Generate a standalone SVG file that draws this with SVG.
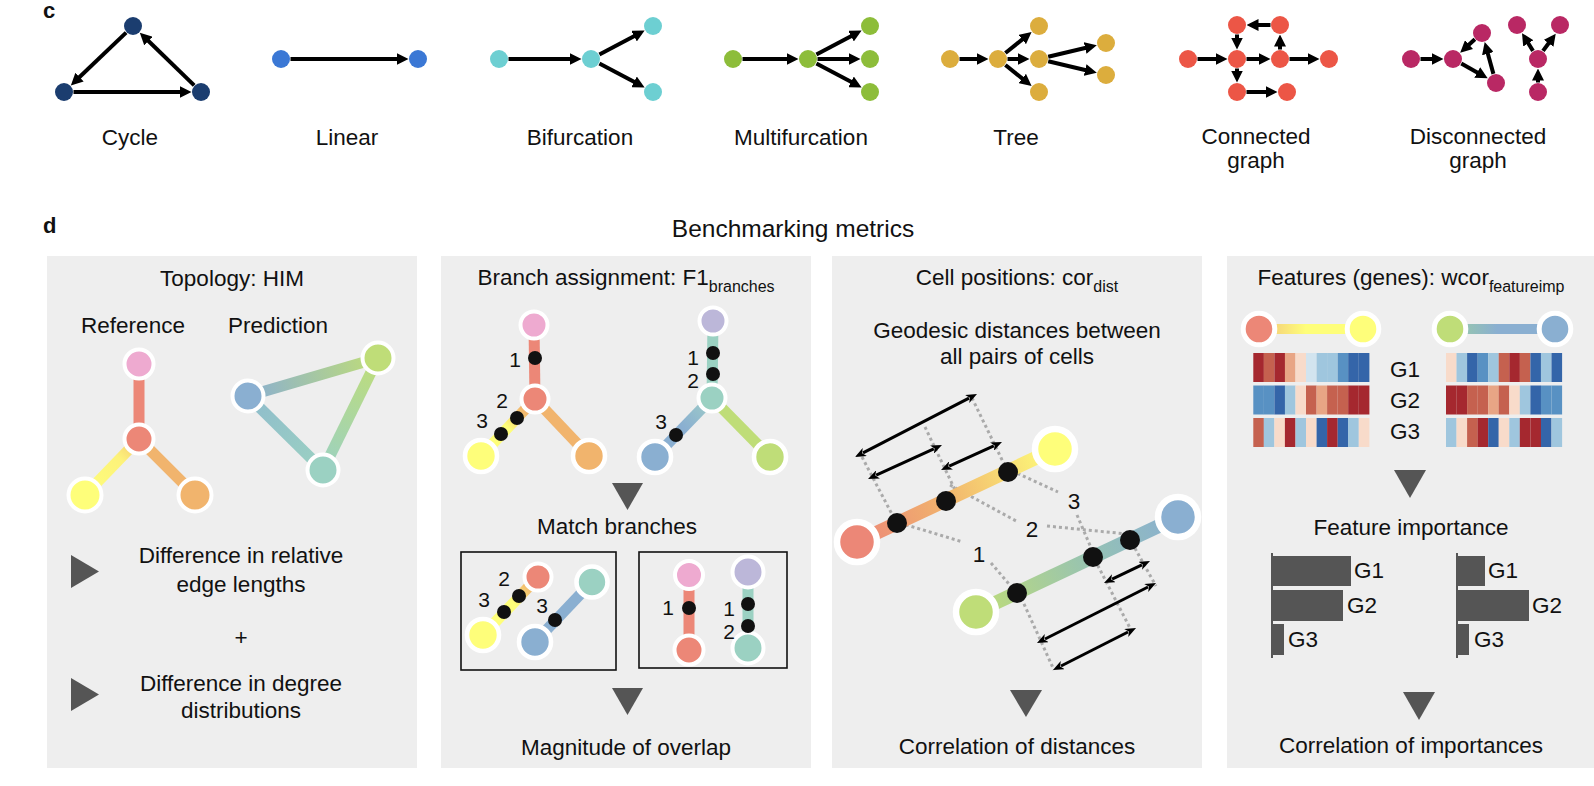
<svg xmlns="http://www.w3.org/2000/svg" width="1594" height="786" viewBox="0 0 1594 786">
<defs>
<style>
text{font-family:"Liberation Sans",Arial,sans-serif;fill:#111;font-size:22.5px}
.m{text-anchor:middle}
.b{font-weight:bold;font-size:22px}
.sub{font-size:16px}
.dg{font-size:21px}
.e{stroke:#000;stroke-width:4;fill:none;marker-end:url(#ah)}
.panel{fill:#eeeeee}
.w{stroke:#fff;stroke-width:4}
.w5{stroke:#fff;stroke-width:4.6}
.w3{stroke:#fff;stroke-width:6.5}
.ed{fill:none;stroke-width:11}
.dot{fill:#111}
.tri{fill:#555}
.dash{stroke:#aaa;stroke-width:3;stroke-dasharray:3 3;fill:none}
.da{stroke:#000;stroke-width:3;fill:none;marker-start:url(#dh);marker-end:url(#dh)}
.box{fill:none;stroke:#111;stroke-width:1.6}
.cyc{fill:#1b3d6f}.lin{fill:#3b78d5}.bif{fill:#6dcfd2}.mul{fill:#8dbd3a}.tre{fill:#dcad3d}.con{fill:#ec5646}.dis{fill:#b92864}
.pk{fill:#eeaad0}.rd{fill:#ec8777}.ye{fill:#fefe7a}.or{fill:#f1b46d}.bl{fill:#8aafd1}.gr{fill:#bfdd78}.te{fill:#9bd1c2}.lv{fill:#bcb7d9}
.bar{fill:#555}
.ax{stroke:#555;stroke-width:2}
</style>
<marker id="ah" viewBox="0 0 12 12" refX="1" refY="6" markerWidth="12" markerHeight="12" markerUnits="userSpaceOnUse" orient="auto"><path d="M0,0 L12,6 L0,12 z" fill="#000"/></marker>
<marker id="dh" viewBox="0 0 11 9" refX="2" refY="4.5" markerWidth="11" markerHeight="9" markerUnits="userSpaceOnUse" orient="auto-start-reverse"><path d="M0,0 L11,4.5 L0,9 L3,4.5 z" fill="#000"/></marker>
<linearGradient id="g1ry" gradientUnits="userSpaceOnUse" x1="139" y1="439" x2="85" y2="495"><stop offset="0" stop-color="#f2c272"/><stop offset="0.35" stop-color="#fdf27a"/><stop offset="1" stop-color="#fefe7a"/></linearGradient>
<linearGradient id="g1bg" gradientUnits="userSpaceOnUse" x1="248" y1="396" x2="378" y2="358"><stop offset="0" stop-color="#8aafd1"/><stop offset="1" stop-color="#bfdd78"/></linearGradient>
<linearGradient id="g1gt" gradientUnits="userSpaceOnUse" x1="378" y1="358" x2="323" y2="470"><stop offset="0" stop-color="#bfdd78"/><stop offset="1" stop-color="#9bd1c2"/></linearGradient>
<linearGradient id="g1bt" gradientUnits="userSpaceOnUse" x1="248" y1="396" x2="323" y2="470"><stop offset="0" stop-color="#8fbccc"/><stop offset="1" stop-color="#9bd1c2"/></linearGradient>
<linearGradient id="g2ry" gradientUnits="userSpaceOnUse" x1="535" y1="399" x2="481" y2="456"><stop offset="0.2" stop-color="#f1b46d"/><stop offset="0.5" stop-color="#fefe7a"/></linearGradient>
<linearGradient id="g2tb" gradientUnits="userSpaceOnUse" x1="712" y1="398" x2="655" y2="457"><stop offset="0.1" stop-color="#9bc8c8"/><stop offset="0.5" stop-color="#8aafd1"/></linearGradient>
<linearGradient id="g2bx" gradientUnits="userSpaceOnUse" x1="538" y1="577" x2="483" y2="635"><stop offset="0.15" stop-color="#f1b46d"/><stop offset="0.45" stop-color="#fefe7a"/></linearGradient>
<linearGradient id="g3a" gradientUnits="userSpaceOnUse" x1="857" y1="542" x2="1055" y2="449"><stop offset="0" stop-color="#ec8777"/><stop offset="0.45" stop-color="#f1b46d"/><stop offset="1" stop-color="#fefe7a"/></linearGradient>
<linearGradient id="g3b" gradientUnits="userSpaceOnUse" x1="976" y1="612" x2="1178" y2="517"><stop offset="0" stop-color="#bfdd78"/><stop offset="0.6" stop-color="#94c1b6"/><stop offset="1" stop-color="#8aafd1"/></linearGradient>
<linearGradient id="g4a" gradientUnits="userSpaceOnUse" x1="1259" y1="329" x2="1363" y2="329"><stop offset="0.12" stop-color="#f5d27a"/><stop offset="0.45" stop-color="#fefe7a"/></linearGradient>
<linearGradient id="g4b" gradientUnits="userSpaceOnUse" x1="1450" y1="329" x2="1555" y2="329"><stop offset="0.15" stop-color="#95c3b3"/><stop offset="0.45" stop-color="#8aafd1"/></linearGradient>
</defs>
<rect width="1594" height="786" fill="#fff"/>

<!-- ===== c: topologies ===== -->
<text class="b" x="43" y="18">c</text>
<g id="connectors">
  <line class="e" x1="126.1" y1="32.6" x2="78.8" y2="77.8"/>
  <line class="e" x1="73.5" y1="92" x2="180.5" y2="92"/>
  <line class="e" x1="194.2" y1="85.4" x2="147.7" y2="40.3"/>
  <line class="e" x1="290.5" y1="59" x2="397.5" y2="59"/>
  <line class="e" x1="508.5" y1="59" x2="570.5" y2="59"/>
  <line class="e" x1="599.4" y1="54.5" x2="634.9" y2="35.7"/>
  <line class="e" x1="599.4" y1="63.5" x2="634.9" y2="82.3"/>
  <line class="e" x1="742.5" y1="59" x2="787.5" y2="59"/>
  <line class="e" x1="816.4" y1="54.5" x2="851.9" y2="35.7"/>
  <line class="e" x1="817.5" y1="59" x2="849.5" y2="59"/>
  <line class="e" x1="816.4" y1="63.5" x2="851.9" y2="82.3"/>
  <line class="e" x1="959.5" y1="59" x2="977.5" y2="59"/>
  <line class="e" x1="1005.4" y1="53" x2="1023" y2="38.9"/>
  <line class="e" x1="1007.5" y1="59" x2="1018.5" y2="59"/>
  <line class="e" x1="1005.4" y1="65" x2="1023" y2="79.1"/>
  <line class="e" x1="1048.2" y1="56.8" x2="1086.1" y2="47.8"/>
  <line class="e" x1="1048.2" y1="61.2" x2="1086.1" y2="70.2"/>
  <line class="e" x1="1197.5" y1="59" x2="1216.5" y2="59"/>
  <line class="e" x1="1270.5" y1="25" x2="1257.5" y2="25"/>
  <line class="e" x1="1237" y1="34.5" x2="1237" y2="38.5"/>
  <line class="e" x1="1246.5" y1="59" x2="1259.5" y2="59"/>
  <line class="e" x1="1280" y1="49.5" x2="1280" y2="45.5"/>
  <line class="e" x1="1289.5" y1="59" x2="1308.5" y2="59"/>
  <line class="e" x1="1237" y1="68.5" x2="1237" y2="71.5"/>
  <line class="e" x1="1246.5" y1="92" x2="1266.5" y2="92"/>
  <line class="e" x1="1420.5" y1="59" x2="1432.5" y2="59"/>
  <line class="e" x1="1474.9" y1="39.3" x2="1468.3" y2="45.3"/>
  <line class="e" x1="1461.3" y1="63.6" x2="1478.1" y2="73"/>
  <line class="e" x1="1493.4" y1="73.9" x2="1487.6" y2="52.7"/>
  <line class="e" x1="1538" y1="82.5" x2="1538" y2="79.5"/>
  <line class="e" x1="1533" y1="50.9" x2="1527.8" y2="42.5"/>
  <line class="e" x1="1543" y1="50.9" x2="1549.2" y2="42.5"/>
</g>
<g id="cycle">
  <circle class="cyc" cx="133" cy="26" r="9"/><circle class="cyc" cx="64" cy="92" r="9"/><circle class="cyc" cx="201" cy="92" r="9"/>
  <text class="m" x="130" y="145">Cycle</text>
</g>
<g id="linear">
  <circle class="lin" cx="281" cy="59" r="9"/><circle class="lin" cx="418" cy="59" r="9"/>
  <text class="m" x="347" y="145">Linear</text>
</g>
<g id="bifurcation">
  <circle class="bif" cx="499" cy="59" r="9"/><circle class="bif" cx="591" cy="59" r="9"/><circle class="bif" cx="653" cy="26" r="9"/><circle class="bif" cx="653" cy="92" r="9"/>
  <text class="m" x="580" y="145">Bifurcation</text>
</g>
<g id="multifurcation">
  <circle class="mul" cx="733" cy="59" r="9"/><circle class="mul" cx="808" cy="59" r="9"/><circle class="mul" cx="870" cy="26" r="9"/><circle class="mul" cx="870" cy="59" r="9"/><circle class="mul" cx="870" cy="92" r="9"/>
  <text class="m" x="801" y="145">Multifurcation</text>
</g>
<g id="tree">
  <circle class="tre" cx="950" cy="59" r="9"/><circle class="tre" cx="998" cy="59" r="9"/><circle class="tre" cx="1039" cy="26" r="9"/><circle class="tre" cx="1039" cy="59" r="9"/><circle class="tre" cx="1039" cy="92" r="9"/><circle class="tre" cx="1106" cy="43" r="9"/><circle class="tre" cx="1106" cy="75" r="9"/>
  <text class="m" x="1016" y="145">Tree</text>
</g>
<g id="connected-graph">
  <circle class="con" cx="1188" cy="59" r="9"/><circle class="con" cx="1237" cy="59" r="9"/><circle class="con" cx="1237" cy="25" r="9"/><circle class="con" cx="1280" cy="25" r="9"/><circle class="con" cx="1280" cy="59" r="9"/><circle class="con" cx="1329" cy="59" r="9"/><circle class="con" cx="1237" cy="92" r="9"/><circle class="con" cx="1287" cy="92" r="9"/>
  <text class="m" x="1256" y="144">Connected</text>
  <text class="m" x="1256" y="168">graph</text>
</g>
<g id="disconnected-graph">
  <circle class="dis" cx="1411" cy="59" r="9"/><circle class="dis" cx="1453" cy="59" r="9"/><circle class="dis" cx="1482" cy="33" r="9"/><circle class="dis" cx="1496" cy="83" r="9"/><circle class="dis" cx="1517" cy="25" r="9"/><circle class="dis" cx="1560" cy="25" r="9"/><circle class="dis" cx="1538" cy="59" r="9"/><circle class="dis" cx="1538" cy="92" r="9"/>
  <text class="m" x="1478" y="144">Disconnected</text>
  <text class="m" x="1478" y="168">graph</text>
</g>

<!-- ===== d: benchmarking metrics ===== -->
<text class="b" x="43" y="233">d</text>
<text class="m" x="793" y="237" style="font-size:24.5px">Benchmarking metrics</text>

<g id="panel-topology">
  <rect class="panel" x="47" y="256" width="370" height="512"/>
  <text class="m" x="232" y="286">Topology: HIM</text>
  <text class="m" x="133" y="333">Reference</text>
  <text class="m" x="278" y="333">Prediction</text>
  <line class="ed" x1="139" y1="364" x2="139" y2="439" stroke="#ec8777"/>
  <line class="ed" x1="139" y1="439" x2="85" y2="495" stroke="url(#g1ry)"/>
  <line class="ed" x1="139" y1="439" x2="195" y2="495" stroke="#f1b46d"/>
  <line class="ed" x1="248" y1="396" x2="378" y2="358" stroke="url(#g1bg)"/>
  <line class="ed" x1="378" y1="358" x2="323" y2="470" stroke="url(#g1gt)"/>
  <line class="ed" x1="248" y1="396" x2="323" y2="470" stroke="url(#g1bt)"/>
  <circle class="pk w" cx="139" cy="364" r="14.5"/>
  <circle class="rd w" cx="139" cy="439" r="14.5"/>
  <circle class="ye w" cx="85" cy="495" r="16.5"/>
  <circle class="or w" cx="195" cy="495" r="16.5"/>
  <circle class="bl w" cx="248" cy="396" r="15.5"/>
  <circle class="gr w" cx="378" cy="358" r="15.5"/>
  <circle class="te w" cx="323" cy="470" r="15.5"/>
  <polygon class="tri" points="71,555 71,588 99,571.5"/>
  <text class="m" x="241" y="563">Difference in relative</text>
  <text class="m" x="241" y="592">edge lengths</text>
  <text class="m" x="241" y="645">+</text>
  <polygon class="tri" points="71,678 71,711 99,694.5"/>
  <text class="m" x="241" y="691">Difference in degree</text>
  <text class="m" x="241" y="718">distributions</text>
</g>

<g id="panel-branch">
  <rect class="panel" x="441" y="256" width="370" height="512"/>
  <text class="m" x="626" y="285">Branch assignment: F1<tspan class="sub" dy="7">branches</tspan></text>
  <line class="ed" x1="534" y1="325" x2="535" y2="399" stroke="#ec8777"/>
  <line class="ed" x1="535" y1="399" x2="481" y2="456" stroke="url(#g2ry)"/>
  <line class="ed" x1="535" y1="399" x2="589" y2="456" stroke="#f1b46d"/>
  <line class="ed" x1="713" y1="321" x2="712" y2="398" stroke="#9bd1c2"/>
  <line class="ed" x1="712" y1="398" x2="655" y2="457" stroke="url(#g2tb)"/>
  <line class="ed" x1="712" y1="398" x2="770" y2="457" stroke="#bfdd78"/>
  <circle class="pk w" cx="534" cy="325" r="13.5"/>
  <circle class="rd w" cx="535" cy="399" r="13.5"/>
  <circle class="ye w5" cx="481" cy="456" r="16"/>
  <circle class="or w5" cx="589" cy="456" r="16"/>
  <circle class="lv w" cx="713" cy="321" r="13.5"/>
  <circle class="te w" cx="712" cy="398" r="13.5"/>
  <circle class="bl w5" cx="655" cy="457" r="16"/>
  <circle class="gr w5" cx="770" cy="457" r="16"/>
  <circle class="dot" cx="535" cy="358" r="7"/>
  <circle class="dot" cx="517" cy="418" r="7"/>
  <circle class="dot" cx="501" cy="434" r="7"/>
  <circle class="dot" cx="713" cy="353" r="7"/>
  <circle class="dot" cx="713" cy="374" r="7"/>
  <circle class="dot" cx="676" cy="435" r="7"/>
  <text class="m dg" x="515" y="367">1</text>
  <text class="m dg" x="502" y="408">2</text>
  <text class="m dg" x="482" y="428">3</text>
  <text class="m dg" x="693" y="365">1</text>
  <text class="m dg" x="693" y="388">2</text>
  <text class="m dg" x="661" y="429">3</text>
  <polygon class="tri" points="612,483 643,483 627.5,510"/>
  <text class="m" x="617" y="534">Match branches</text>
  <rect class="box" x="461" y="552" width="155" height="118"/>
  <line class="ed" x1="538" y1="577" x2="483" y2="635" stroke="url(#g2bx)"/>
  <line class="ed" x1="535" y1="642" x2="592" y2="582" stroke="#8aafd1"/>
  <circle class="rd w" cx="538" cy="577" r="13.5"/>
  <circle class="ye w5" cx="483" cy="635" r="16"/>
  <circle class="te w5" cx="592" cy="582" r="15.5"/>
  <circle class="bl w5" cx="535" cy="642" r="16"/>
  <circle class="dot" cx="519" cy="596" r="7"/>
  <circle class="dot" cx="504" cy="612" r="7"/>
  <circle class="dot" cx="555" cy="620" r="7"/>
  <text class="m dg" x="504" y="586">2</text>
  <text class="m dg" x="484" y="607">3</text>
  <text class="m dg" x="542" y="613">3</text>
  <rect class="box" x="639" y="552" width="148" height="116"/>
  <line class="ed" x1="689" y1="575" x2="689" y2="650" stroke="#ec8777"/>
  <line class="ed" x1="748" y1="572" x2="748" y2="648" stroke="#9bd1c2"/>
  <circle class="pk w" cx="689" cy="575" r="14"/>
  <circle class="rd w" cx="689" cy="650" r="14.5"/>
  <circle class="lv w" cx="748" cy="572" r="15.5"/>
  <circle class="te w" cx="748" cy="648" r="15.5"/>
  <circle class="dot" cx="689" cy="608" r="7"/>
  <circle class="dot" cx="748" cy="604" r="7"/>
  <circle class="dot" cx="748" cy="626" r="7"/>
  <text class="m dg" x="668" y="615">1</text>
  <text class="m dg" x="729" y="616">1</text>
  <text class="m dg" x="729" y="639">2</text>
  <polygon class="tri" points="612,688 643,688 627.5,715"/>
  <text class="m" x="626" y="755">Magnitude of overlap</text>
</g>

<g id="panel-positions">
  <rect class="panel" x="832" y="256" width="370" height="512"/>
  <text class="m" x="1017" y="285">Cell positions: cor<tspan class="sub" dy="7">dist</tspan></text>
  <text class="m" x="1017" y="338">Geodesic distances between</text>
  <text class="m" x="1017" y="364">all pairs of cells</text>
  <g id="dotted-guides">
    <line class="dash" x1="862" y1="457" x2="895" y2="520"/>
    <line class="dash" x1="925" y1="427" x2="957" y2="494"/>
    <line class="dash" x1="972" y1="398" x2="1006" y2="468"/>
    <line class="dash" x1="1019" y1="593" x2="1054" y2="670"/>
    <line class="dash" x1="1095" y1="560" x2="1131" y2="630"/>
    <line class="dash" x1="1132" y1="543" x2="1156" y2="586"/>
    <polyline class="dash" points="900,523 963,542"/>
    <polyline class="dash" points="991,563 1015,591"/>
    <polyline class="dash" points="950,485 1018,522"/>
    <polyline class="dash" points="1047,526 1127,534"/>
    <polyline class="dash" points="1012,471 1058,492"/>
    <polyline class="dash" points="1077,515 1092,550"/>
  </g>
  <line x1="857" y1="542" x2="1055" y2="449" stroke="url(#g3a)" stroke-width="14"/>
  <line x1="976" y1="612" x2="1178" y2="517" stroke="url(#g3b)" stroke-width="14"/>
  <circle class="rd w3" cx="857" cy="542" r="20"/>
  <circle class="ye w3" cx="1055" cy="449" r="20"/>
  <circle class="gr w3" cx="976" cy="612" r="20"/>
  <circle class="bl w3" cx="1178" cy="517" r="20"/>
  <circle class="dot" cx="897" cy="523" r="10"/>
  <circle class="dot" cx="946" cy="501" r="10"/>
  <circle class="dot" cx="1008" cy="472" r="10"/>
  <circle class="dot" cx="1017" cy="593" r="10"/>
  <circle class="dot" cx="1093" cy="557" r="10"/>
  <circle class="dot" cx="1130" cy="540" r="10"/>
  <text class="m" x="979" y="562">1</text>
  <text class="m" x="1032" y="537">2</text>
  <text class="m" x="1074" y="509">3</text>
  <g id="distance-arrows">
    <line class="da" x1="863" y1="452.9" x2="969" y2="398.1"/>
    <line class="da" x1="876.2" y1="475.2" x2="933.8" y2="448.8"/>
    <line class="da" x1="949.2" y1="466.2" x2="993.8" y2="445.8"/>
    <line class="da" x1="1112.1" y1="579.1" x2="1141.9" y2="564.9"/>
    <line class="da" x1="1045" y1="639" x2="1148" y2="587"/>
    <line class="da" x1="1061" y1="666" x2="1128" y2="632"/>
  </g>
  <polygon class="tri" points="1010,690 1042,690 1026,717"/>
  <text class="m" x="1017" y="754">Correlation of distances</text>
</g>

<g id="panel-features">
  <rect class="panel" x="1227" y="256" width="367" height="512"/>
  <text class="m" x="1411" y="285">Features (genes): wcor<tspan class="sub" dy="7">featureimp</tspan></text>
  <line x1="1259" y1="329" x2="1363" y2="329" stroke="url(#g4a)" stroke-width="10"/>
  <line x1="1450" y1="329" x2="1555" y2="329" stroke="url(#g4b)" stroke-width="10"/>
  <circle class="rd" cx="1259" cy="329" r="15.8" stroke="#fff" stroke-width="5"/>
  <circle class="ye" cx="1363" cy="329" r="15.8" stroke="#fff" stroke-width="5"/>
  <circle class="gr" cx="1450" cy="329" r="15.8" stroke="#fff" stroke-width="5"/>
  <circle class="bl" cx="1555" cy="329" r="15.8" stroke="#fff" stroke-width="5"/>
  <g id="heatmap-left">
    <rect x="1253.3" y="353" width="10.6" height="29" fill="#a5282f"/><rect x="1263.8" y="353" width="10.6" height="29" fill="#c5614f"/><rect x="1274.4" y="353" width="10.6" height="29" fill="#a5282f"/><rect x="1284.9" y="353" width="10.6" height="29" fill="#e8a585"/><rect x="1295.5" y="353" width="10.6" height="29" fill="#f8dbca"/><rect x="1306" y="353" width="10.6" height="29" fill="#d2e4ef"/><rect x="1316.6" y="353" width="10.6" height="29" fill="#9fc6de"/><rect x="1327.1" y="353" width="10.6" height="29" fill="#9fc6de"/><rect x="1337.7" y="353" width="10.6" height="29" fill="#5891c3"/><rect x="1348.2" y="353" width="10.6" height="29" fill="#3465a9"/><rect x="1358.8" y="353" width="10.6" height="29" fill="#3465a9"/>
    <rect x="1253.3" y="385.5" width="10.6" height="29" fill="#5891c3"/><rect x="1263.8" y="385.5" width="10.6" height="29" fill="#5891c3"/><rect x="1274.4" y="385.5" width="10.6" height="29" fill="#3465a9"/><rect x="1284.9" y="385.5" width="10.6" height="29" fill="#9fc6de"/><rect x="1295.5" y="385.5" width="10.6" height="29" fill="#f8dbca"/><rect x="1306" y="385.5" width="10.6" height="29" fill="#c5614f"/><rect x="1316.6" y="385.5" width="10.6" height="29" fill="#e8a585"/><rect x="1327.1" y="385.5" width="10.6" height="29" fill="#c5614f"/><rect x="1337.7" y="385.5" width="10.6" height="29" fill="#c5614f"/><rect x="1348.2" y="385.5" width="10.6" height="29" fill="#a5282f"/><rect x="1358.8" y="385.5" width="10.6" height="29" fill="#a5282f"/>
    <rect x="1253.3" y="418" width="10.6" height="29" fill="#c5614f"/><rect x="1263.8" y="418" width="10.6" height="29" fill="#9fc6de"/><rect x="1274.4" y="418" width="10.6" height="29" fill="#f8dbca"/><rect x="1284.9" y="418" width="10.6" height="29" fill="#a5282f"/><rect x="1295.5" y="418" width="10.6" height="29" fill="#9fc6de"/><rect x="1306" y="418" width="10.6" height="29" fill="#f8dbca"/><rect x="1316.6" y="418" width="10.6" height="29" fill="#3465a9"/><rect x="1327.1" y="418" width="10.6" height="29" fill="#a5282f"/><rect x="1337.7" y="418" width="10.6" height="29" fill="#3465a9"/><rect x="1348.2" y="418" width="10.6" height="29" fill="#9fc6de"/><rect x="1358.8" y="418" width="10.6" height="29" fill="#f8dbca"/>
  </g>
  <g id="heatmap-right">
    <rect x="1446" y="353" width="10.6" height="29" fill="#f8dbca"/><rect x="1456.5" y="353" width="10.6" height="29" fill="#9fc6de"/><rect x="1467.1" y="353" width="10.6" height="29" fill="#3465a9"/><rect x="1477.6" y="353" width="10.6" height="29" fill="#5891c3"/><rect x="1488.2" y="353" width="10.6" height="29" fill="#9fc6de"/><rect x="1498.7" y="353" width="10.6" height="29" fill="#c5614f"/><rect x="1509.3" y="353" width="10.6" height="29" fill="#a5282f"/><rect x="1519.8" y="353" width="10.6" height="29" fill="#c5614f"/><rect x="1530.4" y="353" width="10.6" height="29" fill="#3465a9"/><rect x="1540.9" y="353" width="10.6" height="29" fill="#9fc6de"/><rect x="1551.5" y="353" width="10.6" height="29" fill="#3465a9"/>
    <rect x="1446" y="385.5" width="10.6" height="29" fill="#a5282f"/><rect x="1456.5" y="385.5" width="10.6" height="29" fill="#a5282f"/><rect x="1467.1" y="385.5" width="10.6" height="29" fill="#c5614f"/><rect x="1477.6" y="385.5" width="10.6" height="29" fill="#c5614f"/><rect x="1488.2" y="385.5" width="10.6" height="29" fill="#e8a585"/><rect x="1498.7" y="385.5" width="10.6" height="29" fill="#c5614f"/><rect x="1509.3" y="385.5" width="10.6" height="29" fill="#f8dbca"/><rect x="1519.8" y="385.5" width="10.6" height="29" fill="#9fc6de"/><rect x="1530.4" y="385.5" width="10.6" height="29" fill="#3465a9"/><rect x="1540.9" y="385.5" width="10.6" height="29" fill="#5891c3"/><rect x="1551.5" y="385.5" width="10.6" height="29" fill="#5891c3"/>
    <rect x="1446" y="418" width="10.6" height="29" fill="#9fc6de"/><rect x="1456.5" y="418" width="10.6" height="29" fill="#f8dbca"/><rect x="1467.1" y="418" width="10.6" height="29" fill="#c5614f"/><rect x="1477.6" y="418" width="10.6" height="29" fill="#a5282f"/><rect x="1488.2" y="418" width="10.6" height="29" fill="#3465a9"/><rect x="1498.7" y="418" width="10.6" height="29" fill="#f8dbca"/><rect x="1509.3" y="418" width="10.6" height="29" fill="#9fc6de"/><rect x="1519.8" y="418" width="10.6" height="29" fill="#a5282f"/><rect x="1530.4" y="418" width="10.6" height="29" fill="#a5282f"/><rect x="1540.9" y="418" width="10.6" height="29" fill="#3465a9"/><rect x="1551.5" y="418" width="10.6" height="29" fill="#9fc6de"/>
  </g>
  <text x="1390" y="377">G1</text>
  <text x="1390" y="408">G2</text>
  <text x="1390" y="439">G3</text>
  <polygon class="tri" points="1394,470 1426,470 1410,498"/>
  <text class="m" x="1411" y="535">Feature importance</text>
  <g id="bars-left">
    <rect class="bar" x="1272" y="556" width="79" height="30"/>
    <rect class="bar" x="1272" y="590" width="71" height="31"/>
    <rect class="bar" x="1272" y="624" width="12" height="31"/>
    <line class="ax" x1="1272" y1="553" x2="1272" y2="658"/>
    <text x="1354" y="578">G1</text>
    <text x="1347" y="613">G2</text>
    <text x="1288" y="647">G3</text>
  </g>
  <g id="bars-right">
    <rect class="bar" x="1457" y="556" width="28" height="30"/>
    <rect class="bar" x="1457" y="590" width="72" height="31"/>
    <rect class="bar" x="1457" y="624" width="12" height="31"/>
    <line class="ax" x1="1457" y1="553" x2="1457" y2="658"/>
    <text x="1488" y="578">G1</text>
    <text x="1532" y="613">G2</text>
    <text x="1474" y="647">G3</text>
  </g>
  <polygon class="tri" points="1403,692 1435,692 1419,720"/>
  <text class="m" x="1411" y="753">Correlation of importances</text>
</g>
</svg>
